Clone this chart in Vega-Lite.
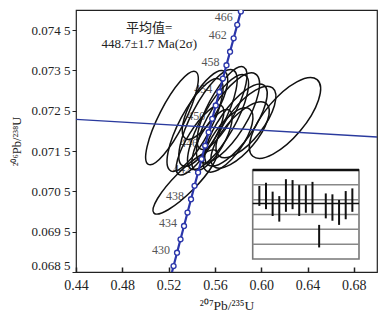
{
  "$schema": "https://vega.github.io/schema/vega-lite/v6.json",
  "width": 301,
  "height": 262,
  "autosize": "none",
  "padding": {"left": 76, "top": 10, "right": 8, "bottom": 43},
  "background": "white",
  "config": {"view": {"stroke": "#222", "strokeWidth": 1.2}, "font": "Liberation Serif"},
  "datasets": {
    "concordia": [
      {"t": 426, "x": 0.521271, "y": 0.0683157},
      {"t": 428, "x": 0.524270, "y": 0.0686471},
      {"t": 430, "x": 0.527276, "y": 0.0689788},
      {"t": 432, "x": 0.530287, "y": 0.0693104},
      {"t": 434, "x": 0.533304, "y": 0.0696423},
      {"t": 436, "x": 0.536327, "y": 0.0699742},
      {"t": 438, "x": 0.539356, "y": 0.0703062},
      {"t": 440, "x": 0.542391, "y": 0.0706383},
      {"t": 442, "x": 0.545432, "y": 0.0709705},
      {"t": 444, "x": 0.548479, "y": 0.0713028},
      {"t": 446, "x": 0.551534, "y": 0.0716352},
      {"t": 448, "x": 0.554592, "y": 0.0719677},
      {"t": 450, "x": 0.557657, "y": 0.0723004},
      {"t": 452, "x": 0.560728, "y": 0.0726331},
      {"t": 454, "x": 0.563805, "y": 0.0729660},
      {"t": 456, "x": 0.566888, "y": 0.0732989},
      {"t": 458, "x": 0.569978, "y": 0.0736320},
      {"t": 460, "x": 0.573073, "y": 0.0739651},
      {"t": 462, "x": 0.576174, "y": 0.0742984},
      {"t": 464, "x": 0.579282, "y": 0.0746317},
      {"t": 466, "x": 0.582396, "y": 0.0749652},
      {"t": 468, "x": 0.585516, "y": 0.0752987}
    ],
    "ellipses": [
      {"x": 0.5229, "y": 0.072321, "a": 0.0449, "cls": "r25", "tilt": 63},
      {"x": 0.5342, "y": 0.070733, "a": 0.0380, "cls": "r25", "tilt": 45},
      {"x": 0.6205, "y": 0.072321, "a": 0.0432, "cls": "r40", "tilt": 50},
      {"x": 0.5428, "y": 0.072147, "a": 0.0448, "cls": "r30", "tilt": 62},
      {"x": 0.5540, "y": 0.072321, "a": 0.0467, "cls": "r30", "tilt": 62},
      {"x": 0.5627, "y": 0.072221, "a": 0.0467, "cls": "r30", "tilt": 60},
      {"x": 0.5713, "y": 0.072321, "a": 0.0448, "cls": "r35", "tilt": 58},
      {"x": 0.5782, "y": 0.072147, "a": 0.0420, "cls": "r35", "tilt": 55},
      {"x": 0.5868, "y": 0.072221, "a": 0.0374, "cls": "r40", "tilt": 52},
      {"x": 0.5575, "y": 0.071775, "a": 0.0298, "cls": "r35", "tilt": 60},
      {"x": 0.5713, "y": 0.071775, "a": 0.0326, "cls": "r40", "tilt": 55},
      {"x": 0.5514, "y": 0.072643, "a": 0.0336, "cls": "r35", "tilt": 60},
      {"x": 0.5817, "y": 0.071899, "a": 0.0354, "cls": "r40", "tilt": 50},
      {"x": 0.5661, "y": 0.072569, "a": 0.0400, "cls": "r30", "tilt": 62},
      {"x": 0.5471, "y": 0.071775, "a": 0.0350, "cls": "r30", "tilt": 58}
    ],
    "discordia": [
      {"x": 0.44, "y": 0.072288},
      {"x": 0.70, "y": 0.071849}
    ],
    "ages": [
      {"i": 1, "lo": 447.9, "hi": 454.6},
      {"i": 2, "lo": 446.8, "hi": 455.7},
      {"i": 3, "lo": 444.5, "hi": 452.7},
      {"i": 4, "lo": 442.6, "hi": 451.2},
      {"i": 5, "lo": 445.9, "hi": 456.9},
      {"i": 6, "lo": 446.8, "hi": 456.6},
      {"i": 7, "lo": 444.5, "hi": 454.9},
      {"i": 8, "lo": 445.6, "hi": 454.9},
      {"i": 9, "lo": 445.4, "hi": 456.0},
      {"i": 10, "lo": 433.9, "hi": 441.5},
      {"i": 11, "lo": 443.7, "hi": 452.1},
      {"i": 12, "lo": 442.9, "hi": 451.8},
      {"i": 13, "lo": 441.5, "hi": 449.9},
      {"i": 14, "lo": 443.4, "hi": 452.9},
      {"i": 15, "lo": 445.9, "hi": 453.8}
    ],
    "grid": [{"age": 435}, {"age": 440}, {"age": 445}, {"age": 450}, {"age": 455}]
  },
  "layer": [
    {
      "data": {"name": "concordia"},
      "transform": [{"filter": "datum.t % 4 == 2 && datum.t >= 430 && datum.t <= 462"}],
      "mark": {"type": "text", "align": "right", "baseline": "middle", "dx": -7, "dy": -3, "fontSize": 12, "font": "Liberation Serif", "color": "#555"},
      "encoding": {
        "x": {"field": "x", "type": "quantitative", "axis": null, "scale": {"domain": [0.44, 0.70], "nice": false, "zero": false}},
        "y": {"field": "y", "type": "quantitative", "axis": null, "scale": {"domain": [0.0685, 0.075], "nice": false, "zero": false}},
        "text": {"field": "t", "type": "nominal"}
      }
    },
    {
      "data": {"name": "concordia"},
      "transform": [{"filter": "datum.t == 466"}],
      "mark": {"type": "text", "align": "right", "baseline": "middle", "dx": -8, "dy": 6, "fontSize": 12, "font": "Liberation Serif", "color": "#555"},
      "encoding": {
        "x": {"field": "x", "type": "quantitative", "axis": null, "scale": {"domain": [0.44, 0.70], "nice": false, "zero": false}},
        "y": {"field": "y", "type": "quantitative", "axis": null, "scale": {"domain": [0.0685, 0.075], "nice": false, "zero": false}},
        "text": {"field": "t", "type": "nominal"}
      }
    },
    {
      "data": {"name": "ellipses"},
      "mark": {"type": "point", "filled": false, "stroke": "#111", "strokeWidth": 1.5, "opacity": 1, "clip": true},
      "encoding": {
        "x": {"field": "x", "type": "quantitative", "axis": null, "scale": {"domain": [0.44, 0.70], "nice": false, "zero": false}},
        "y": {"field": "y", "type": "quantitative", "axis": null, "scale": {"domain": [0.0685, 0.075], "nice": false, "zero": false}},
        "shape": {
          "field": "cls", "type": "nominal", "legend": null,
          "scale": {
            "domain": ["r25", "r30", "r35", "r40"],
            "range": [
              "M1,0C1,0.1381,0.5523,0.25,0,0.25C-0.5523,0.25,-1,0.1381,-1,0C-1,-0.1381,-0.5523,-0.25,0,-0.25C0.5523,-0.25,1,-0.1381,1,0Z",
              "M1,0C1,0.1657,0.5523,0.3,0,0.3C-0.5523,0.3,-1,0.1657,-1,0C-1,-0.1657,-0.5523,-0.3,0,-0.3C0.5523,-0.3,1,-0.1657,1,0Z",
              "M1,0C1,0.1933,0.5523,0.35,0,0.35C-0.5523,0.35,-1,0.1933,-1,0C-1,-0.1933,-0.5523,-0.35,0,-0.35C0.5523,-0.35,1,-0.1933,1,0Z",
              "M1,0C1,0.2209,0.5523,0.4,0,0.4C-0.5523,0.4,-1,0.2209,-1,0C-1,-0.2209,-0.5523,-0.4,0,-0.4C0.5523,-0.4,1,-0.2209,1,0Z"
            ]
          }
        },
        "size": {"field": "a", "type": "quantitative", "legend": null, "scale": {"type": "pow", "exponent": 2, "domain": [0, 0.05], "range": [0, 13403]}},
        "angle": {"field": "tilt", "type": "quantitative", "legend": null, "scale": {"domain": [0, 360], "range": [360, 0]}}
      }
    },
    {
      "data": {"name": "discordia"},
      "mark": {"type": "line", "color": "#2a3a9e", "strokeWidth": 1.3, "clip": true},
      "encoding": {
        "x": {
          "field": "x", "type": "quantitative",
          "scale": {"domain": [0.44, 0.70], "nice": false, "zero": false},
          "axis": {
            "title": "²⁰⁷Pb/²³⁵U",
            "values": [0.44, 0.48, 0.52, 0.56, 0.60, 0.64, 0.68],
            "format": ".2f", "grid": false, "domain": false,
            "tickSize": -5, "tickColor": "#222", "tickWidth": 1.5,
            "labelFont": "Liberation Serif", "labelFontSize": 14, "labelColor": "#222",
            "labelPadding": 11, "labelFlush": false,
            "titleFont": "Liberation Serif", "titleFontSize": 13.5, "titleFontWeight": "normal",
            "titleColor": "#222", "titlePadding": 6
          }
        },
        "y": {
          "field": "y", "type": "quantitative",
          "scale": {"domain": [0.0685, 0.075], "nice": false, "zero": false},
          "axis": {
            "title": "²⁰⁶Pb/²³⁸U",
            "values": [0.0685, 0.0695, 0.0705, 0.0715, 0.0725, 0.0735, 0.0745],
            "labelExpr": "substring(format(datum.value, '.4f'), 0, 5) + ' ' + substring(format(datum.value, '.4f'), 5, 6)",
            "grid": false, "domain": false,
            "tickSize": 4, "tickColor": "#222",
            "labelFont": "Liberation Serif", "labelFontSize": 13, "labelColor": "#222",
            "labelPadding": 2, "labelFlush": 1,
            "titleFont": "Liberation Serif", "titleFontSize": 12.5, "titleFontWeight": "normal",
            "titleColor": "#222", "titlePadding": 8
          }
        }
      }
    },
    {
      "data": {"name": "concordia"},
      "mark": {"type": "line", "color": "#2b36aa", "strokeWidth": 2.2, "clip": true},
      "encoding": {
        "x": {"field": "x", "type": "quantitative", "axis": null, "scale": {"domain": [0.44, 0.70], "nice": false, "zero": false}},
        "y": {"field": "y", "type": "quantitative", "axis": null, "scale": {"domain": [0.0685, 0.075], "nice": false, "zero": false}},
        "order": {"field": "t", "type": "quantitative"}
      }
    },
    {
      "data": {"name": "concordia"},
      "mark": {"type": "point", "shape": "circle", "filled": true, "fill": "white", "stroke": "#2b36aa", "strokeWidth": 1.4, "size": 24, "opacity": 1, "clip": true},
      "encoding": {
        "x": {"field": "x", "type": "quantitative", "axis": null, "scale": {"domain": [0.44, 0.70], "nice": false, "zero": false}},
        "y": {"field": "y", "type": "quantitative", "axis": null, "scale": {"domain": [0.0685, 0.075], "nice": false, "zero": false}}
      }
    },
    {
      "data": {"values": [{}]},
      "mark": {"type": "text", "text": ["平均值=", "448.7±1.7 Ma(2σ)"], "align": "center", "baseline": "top", "lineHeight": 16, "fontSize": 13, "font": "Liberation Serif, Noto Sans CJK SC", "color": "#222"},
      "encoding": {
        "x": {"datum": 0.5033, "type": "quantitative", "axis": null, "scale": {"domain": [0.44, 0.70], "nice": false, "zero": false}},
        "y": {"datum": 0.07471, "type": "quantitative", "axis": null, "scale": {"domain": [0.0685, 0.075], "nice": false, "zero": false}}
      }
    },
    {
      "data": {"values": [{}]},
      "mark": {"type": "rect", "fill": "white", "stroke": "#777", "strokeWidth": 1.6},
      "encoding": {
        "x": {"datum": 0, "type": "quantitative", "axis": null, "scale": {"domain": [0, 16], "range": [176.7, 283], "nice": false, "zero": false}},
        "x2": {"datum": 16},
        "y": {"datum": 430, "type": "quantitative", "axis": null, "scale": {"domain": [430, 460], "range": [249, 160], "nice": false, "zero": false}},
        "y2": {"datum": 460}
      }
    },
    {
      "data": {"name": "grid"},
      "mark": {"type": "rule", "stroke": "#888", "strokeWidth": 1.5},
      "encoding": {
        "x": {"datum": 0, "type": "quantitative", "axis": null, "scale": {"domain": [0, 16], "range": [176.7, 283], "nice": false, "zero": false}},
        "x2": {"datum": 16},
        "y": {"field": "age", "type": "quantitative", "axis": null, "scale": {"domain": [430, 460], "range": [249, 160], "nice": false, "zero": false}}
      }
    },
    {
      "data": {"values": [{}]},
      "mark": {"type": "rule", "stroke": "#111", "strokeWidth": 1.6},
      "encoding": {
        "x": {"datum": 0, "type": "quantitative", "axis": null, "scale": {"domain": [0, 16], "range": [176.7, 283], "nice": false, "zero": false}},
        "x2": {"datum": 16},
        "y": {"datum": 448.7, "type": "quantitative", "axis": null, "scale": {"domain": [430, 460], "range": [249, 160], "nice": false, "zero": false}}
      }
    },
    {
      "data": {"values": [{}]},
      "mark": {"type": "rule", "stroke": "#111", "strokeWidth": 2.5},
      "encoding": {
        "x": {"datum": 0, "type": "quantitative", "axis": null, "scale": {"domain": [0, 16], "range": [176.7, 283], "nice": false, "zero": false}},
        "x2": {"datum": 16},
        "y": {"datum": 460, "type": "quantitative", "axis": null, "scale": {"domain": [430, 460], "range": [249, 160], "nice": false, "zero": false}}
      }
    },
    {
      "data": {"name": "ages"},
      "mark": {"type": "rule", "stroke": "#111", "strokeWidth": 2},
      "encoding": {
        "x": {"field": "i", "type": "quantitative", "axis": null, "scale": {"domain": [0, 16], "range": [176.7, 283], "nice": false, "zero": false}},
        "y": {"field": "lo", "type": "quantitative", "axis": null, "scale": {"domain": [430, 460], "range": [249, 160], "nice": false, "zero": false}},
        "y2": {"field": "hi"}
      }
    }
  ],
  "resolve": {"scale": {"x": "independent", "y": "independent"}}
}
